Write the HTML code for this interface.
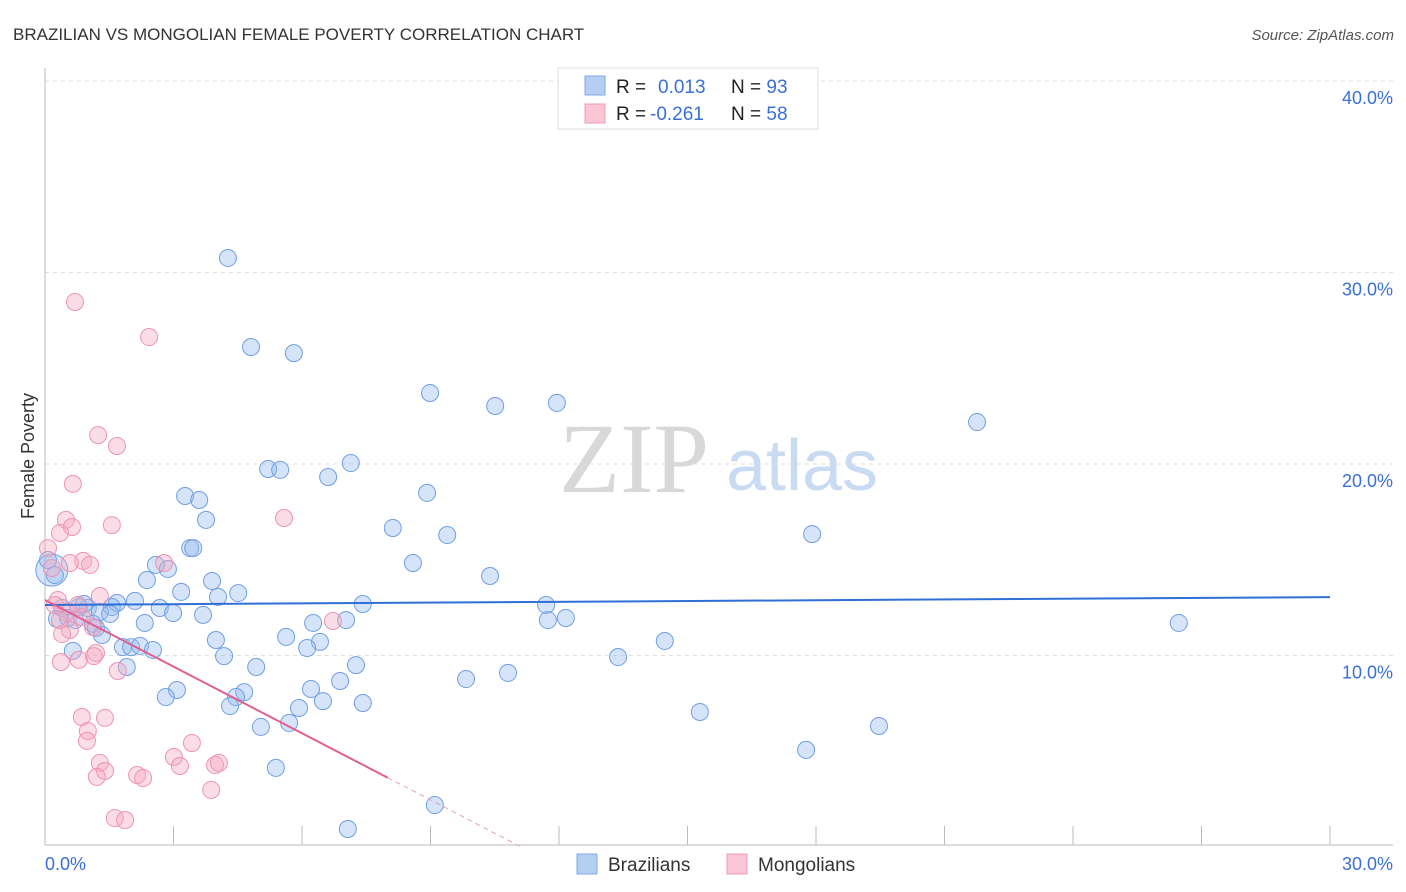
<!DOCTYPE html>
<html><head><meta charset="utf-8"><style>
body{margin:0;background:#fff;font-family:"Liberation Sans",sans-serif;}
#wrap{position:relative;width:1406px;height:892px;overflow:hidden;}
</style></head><body>
<div id="wrap">
<svg id="svg" width="1406" height="892" xmlns="http://www.w3.org/2000/svg">
<text x="13" y="40" font-size="17" fill="#333">BRAZILIAN VS MONGOLIAN FEMALE POVERTY CORRELATION CHART</text>
<text x="1394" y="40" font-size="15" fill="#555" text-anchor="end" font-style="italic">Source: ZipAtlas.com</text>
<text x="634" y="492" font-size="100" fill="#d8d8d8" text-anchor="middle" font-family="Liberation Serif,serif">ZIP</text>
<text x="802" y="490" font-size="72" fill="#c9dbf3" text-anchor="middle">atlas</text>
<text transform="translate(34,456) rotate(-90)" font-size="18" fill="#333" text-anchor="middle">Female Poverty</text>
<g id="grid"></g><g id="pts"></g><g id="trend"></g>
<g>
<rect x="558" y="68" width="260" height="61" fill="#fff" stroke="#ddd"/>
<rect x="585" y="76" width="20" height="19" fill="#b5cff3" stroke="#7fa8e6"/>
<rect x="585" y="104" width="20" height="19" fill="#fac6d6" stroke="#f09ab5"/>
<text x="616" y="93" font-size="19" fill="#222">R = <tspan fill="#3a6fd8" x="658">0.013</tspan><tspan fill="#222" x="731">N = </tspan><tspan fill="#3a6fd8">93</tspan></text>
<text x="616" y="120" font-size="19" fill="#222">R = <tspan fill="#3a6fd8" x="650">-0.261</tspan><tspan fill="#222" x="731">N = </tspan><tspan fill="#3a6fd8">58</tspan></text>
</g>
<g>
<rect x="577" y="854" width="20" height="20" fill="#b5cff3" stroke="#7fa8e6"/>
<text x="608" y="871" font-size="19" fill="#333">Brazilians</text>
<rect x="727" y="854" width="20" height="20" fill="#fac6d6" stroke="#f09ab5"/>
<text x="758" y="871" font-size="19" fill="#333">Mongolians</text>
</g>
</svg>
</div>
<script>
const yTicks=[10,20,30,40];
const yTickLabels=["10.0%","20.0%","30.0%","40.0%"];
const xTicks=[0,3,6,9,12,15,18,21,24,27,30];
const xTickLabels=["0.0%","30.0%"];
const bX=[4.27,4.81,5.81,8.99,10.51,11.95,21.76,5.21,5.49,7.14,6.61,3.27,3.60,3.76,8.92,8.12,9.39,17.91,3.39,3.46,2.59,2.87,8.59,10.39,2.38,3.90,3.18,4.51,4.04,2.10,1.68,1.56,2.68,11.70,7.42,11.74,12.16,26.47,2.99,3.69,2.33,6.26,7.03,1.12,1.19,1.33,5.63,6.42,3.99,14.47,1.82,2.01,2.22,2.52,6.12,4.18,13.38,0.65,1.91,7.26,4.93,10.81,9.83,6.89,6.21,3.08,2.82,4.65,4.46,6.49,7.42,5.93,4.32,15.29,19.47,5.04,5.70,17.77,5.39,9.10,7.07,0.16,0.07,0.23,0.40,0.79,1.00,0.91,0.28,0.54,1.28,0.70,1.52];
const bY=[30.76,26.11,25.79,23.71,23.03,23.19,22.19,19.74,19.69,20.05,19.32,18.33,18.12,17.08,18.49,16.66,16.29,16.34,15.61,15.61,14.73,14.52,14.83,14.15,13.94,13.89,13.32,13.26,13.06,12.85,12.74,12.53,12.48,12.64,12.69,11.85,11.96,11.70,12.22,12.12,11.70,11.70,11.85,11.65,11.44,11.07,10.97,10.71,10.81,10.76,10.44,10.44,10.50,10.29,10.39,9.97,9.92,10.24,9.40,9.50,9.40,9.09,8.77,8.67,8.25,8.20,7.83,8.09,7.83,7.62,7.52,7.26,7.36,7.05,6.32,6.27,6.48,5.07,4.13,2.19,0.94,14.46,14.99,14.20,12.48,12.53,12.48,12.69,11.91,11.96,12.27,11.85,12.17];
const pX=[0.70,2.43,1.24,1.68,0.65,5.58,1.56,0.49,0.63,0.35,0.07,0.89,0.58,1.05,2.78,0.16,1.28,0.30,0.77,0.51,0.86,6.72,1.12,0.58,0.40,1.19,1.14,0.37,0.79,1.70,0.86,1.40,1.00,0.98,3.43,3.01,3.15,1.28,1.40,1.21,3.97,4.06,2.15,2.29,3.88,1.63,1.87,0.35,0.23];
const pY=[28.46,26.63,21.51,20.94,18.96,17.18,16.81,17.08,16.71,16.40,15.61,14.94,14.83,14.73,14.83,14.57,13.11,12.90,12.64,12.27,12.01,11.80,11.49,11.33,11.12,10.13,9.97,9.66,9.77,9.19,6.79,6.74,6.06,5.54,5.43,4.70,4.23,4.39,3.97,3.66,4.28,4.39,3.76,3.60,2.98,1.51,1.41,11.85,12.64];
const bTrend=[12.64,13.05];
const pTrend=[12.90,-1.16];
const pSolidEnd=8.0;

const NS="http://www.w3.org/2000/svg";
const sx=v=>45+v/30*1285;
const sy=v=>847-v*19.15;
function mk(tag,attrs,parent){const e=document.createElementNS(NS,tag);for(const k in attrs)e.setAttribute(k,attrs[k]);parent.appendChild(e);return e;}
const grid=document.getElementById('grid');
yTicks.forEach((t,i)=>{
  const l=mk('line',{x1:45,x2:1393,y1:sy(t),y2:sy(t),stroke:'#ddd','stroke-dasharray':'4,4'},grid);
  
  
  const tx=mk('text',{x:1393,y:sy(t)+23,'font-size':18,fill:'#3a6fd8','text-anchor':'end'},grid);
  tx.textContent=yTickLabels[i];
  
  
});
const ax=mk('line',{x1:45,x2:45,y1:68,y2:845,stroke:'#bbb'},grid);


const bx=mk('line',{x1:45,x2:1393,y1:845,y2:845,stroke:'#bbb'},grid);


xTicks.forEach(t=>{
  const l=mk('line',{x1:sx(t),x2:sx(t),y1:826,y2:845,stroke:'#bbb'},grid);
  
  
});
[[0,'start',45],[30,'end',1393]].forEach((d,i)=>{
  const tx=mk('text',{x:d[2],y:870,'font-size':18,fill:'#3a6fd8','text-anchor':d[1]},grid);
  tx.textContent=xTickLabels[i];
  
  
});
const pts=document.getElementById('pts');
bX.forEach((x,i)=>{
  const r=(i===81)?16:8.5;
  const c=mk('circle',{cx:sx(x),cy:sy(bY[i]),r:r,fill:'rgba(150,188,238,0.4)',stroke:'#6f9fe2','stroke-width':1},pts);
  
  
});
pX.forEach((x,i)=>{
  const c=mk('circle',{cx:sx(x),cy:sy(pY[i]),r:8.5,fill:'rgba(246,170,196,0.4)',stroke:'#ee93b1','stroke-width':1},pts);
  
  
});
const tr=document.getElementById('trend');
const bl=mk('line',{x1:sx(0),y1:sy(bTrend[0]),x2:sx(30),y2:sy(bTrend[1]),stroke:'#2f6fd6','stroke-width':2},tr);


const pf=x=>pTrend[0]+pTrend[1]*x;
const pl=mk('line',{x1:sx(0),y1:sy(pf(0)),x2:sx(pSolidEnd),y2:sy(pf(pSolidEnd)),stroke:'#e0608f','stroke-width':2},tr);


const xEnd=-pTrend[0]/pTrend[1];
const pd=mk('line',{x1:sx(pSolidEnd),y1:sy(pf(pSolidEnd)),x2:sx(xEnd),y2:sy(0),stroke:'#e8a0b8','stroke-width':1,'stroke-dasharray':'5,4'},tr);


</script>
</body></html>
